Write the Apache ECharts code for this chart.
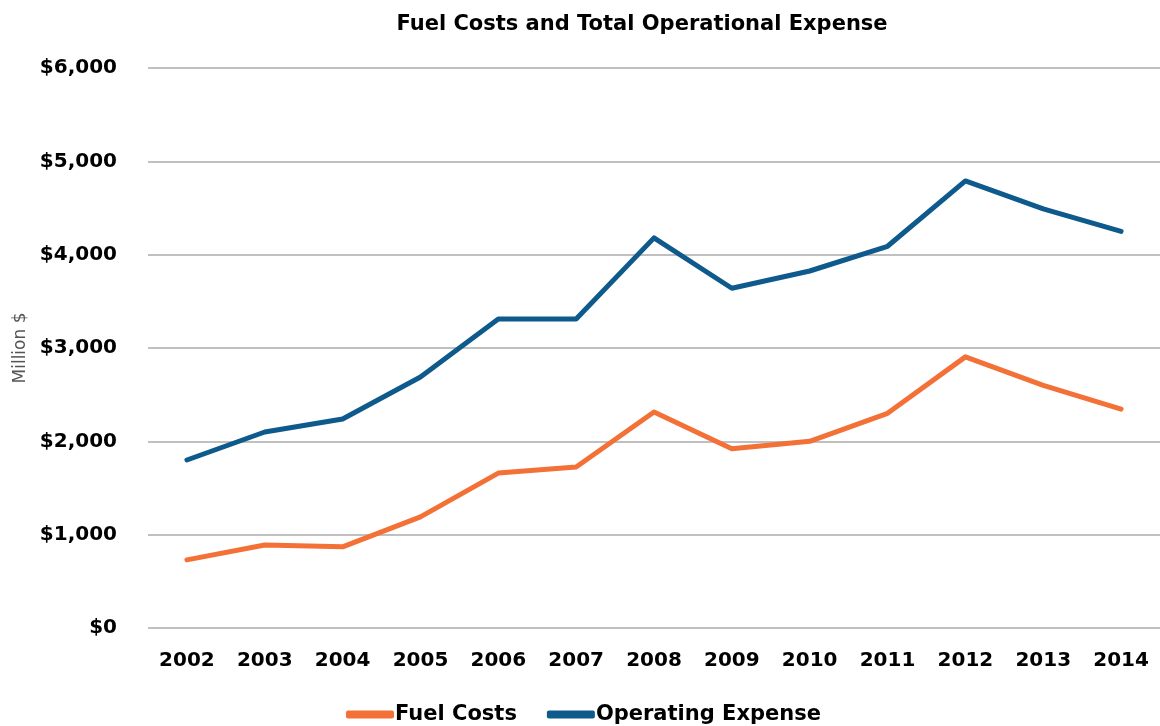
<!DOCTYPE html>
<html>
<head>
<meta charset="utf-8">
<script src="https://cdn.jsdelivr.net/npm/echarts@6/dist/echarts.min.js"></script>
<style>
  html, body { margin: 0; padding: 0; background: #fff; }
  #chart { width: 1160px; height: 726px; }
</style>
</head>
<body>
<div id="chart"></div>
<script>
// 数据
const years = ['2002', '2003', '2004', '2005', '2006', '2007', '2008', '2009', '2010', '2011', '2012', '2013', '2014'];
const fuelCosts = [730, 890, 870, 1190, 1660, 1725, 2315, 1920, 2000, 2300, 2905, 2600, 2345];
const operatingExpense = [1800, 2100, 2240, 2690, 3310, 3310, 4180, 3640, 3825, 4090, 4790, 4490, 4250];
const yTicks = [0, 1000, 2000, 3000, 4000, 5000, 6000];

const fontFam = '"DejaVu Sans", sans-serif';

let myChart = echarts.init(document.getElementById('chart'));
myChart.setOption({
    animation: false,
    title: {
        text: 'Fuel Costs and Total Operational Expense',
        left: 637,
        textAlign: 'center',
        top: 9,
        textStyle: { fontFamily: fontFam, fontWeight: 'bold', fontSize: 21, color: '#000' }
    },
    legend: {
        top: 699,
        left: 341,
        itemWidth: 48,
        itemHeight: 8,
        itemGap: 30,
        icon: 'roundRect',
        data: ['Fuel Costs', 'Operating Expense'],
        textStyle: { fontFamily: fontFam, fontWeight: 'bold', fontSize: 21, color: '#000', padding: [0, 0, 0, -4] }
    },
    grid: {
        left: 148,
        top: 68,
        width: 1022,
        height: 560
    },
    xAxis: {
        type: 'category',
        data: years,
        boundaryGap: true,
        axisLine: { show: false },
        axisTick: { show: false },
        axisLabel: {
            margin: 23,
            color: '#000',
            fontFamily: fontFam,
            fontWeight: 'bold',
            fontSize: 20
        }
    },
    yAxis: {
        type: 'value',
        min: yTicks[0],
        max: yTicks[yTicks.length - 1],
        interval: 1000,
        name: 'Million $',
        nameLocation: 'middle',
        nameGap: 118,
        nameRotate: 90,
        nameTextStyle: { fontFamily: fontFam, fontSize: 17, color: '#555' },
        axisLine: { show: false },
        axisTick: { show: false },
        axisLabel: {
            margin: 31,
            color: '#000',
            fontFamily: fontFam,
            fontWeight: 'bold',
            fontSize: 20,
            formatter: function (v) {
                return '$' + v.toLocaleString('en-US');
            }
        },
        splitLine: { lineStyle: { color: '#C0C0C0', width: 2 } }
    },
    series: [
        {
            name: 'Fuel Costs',
            type: 'line',
            data: fuelCosts,
            symbol: 'none',
            lineStyle: { color: '#F37137', width: 5, cap: 'round', join: 'round' },
            itemStyle: { color: '#F37137' }
        },
        {
            name: 'Operating Expense',
            type: 'line',
            data: operatingExpense,
            symbol: 'none',
            lineStyle: { color: '#0F5A8C', width: 5, cap: 'round', join: 'round' },
            itemStyle: { color: '#0F5A8C' }
        }
    ]
});
</script>
</body>
</html>
